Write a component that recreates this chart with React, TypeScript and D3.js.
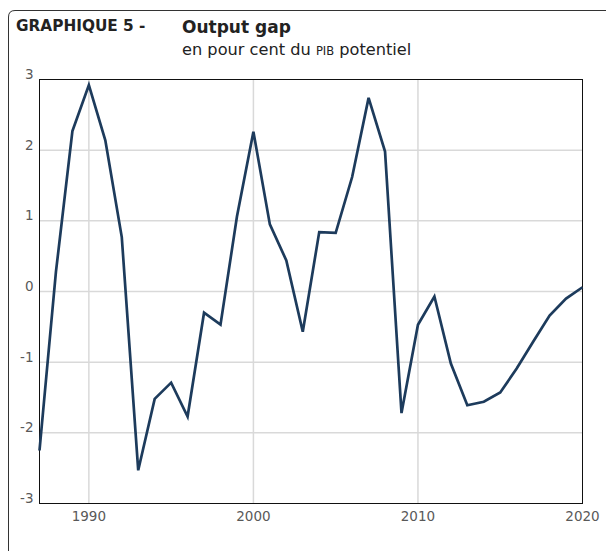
import React from "react";
import * as d3 from "d3";

// output gap, en % du PIB potentiel
const years = d3.range(1987, 2021);
const gap = [
  -2.25, 0.28, 2.27, 2.92, 2.14, 0.77, -2.53, -1.52, -1.29, -1.77,
  -0.3, -0.47, 1.06, 2.26, 0.95, 0.44, -0.57, 0.84, 0.83, 1.62,
  2.74, 1.98, -1.72, -0.47, -0.07, -1.02, -1.61, -1.56, -1.43, -1.09,
  -0.71, -0.34, -0.1, 0.06,
];
const yTicks = [-3, -2, -1, 0, 1, 2, 3];
const xTicks = [1990, 2000, 2010, 2020];

const W = 606;
const H = 551;
const left = 39.5;
const top = 79.5;
const right = 582.5;
const bottom = 503.5;

const font = "'DejaVu Sans', Verdana, sans-serif";

export default function App() {
  const x = d3.scaleLinear().domain([1987, 2020]).range([left, right]);
  const y = d3.scaleLinear().domain([-3, 3]).range([bottom, top]);
  const line = d3
    .line<number>()
    .x((d, i) => x(years[i]))
    .y((d) => y(d));

  return (
    <svg
      width={W}
      height={H}
      style={{ position: "absolute", left: 0, top: 0, background: "#fff" }}
    >
      {/* cadre */}
      <path
        d={`M8.5,${H + 5} V17 Q8.5,10.5 15,10.5 H${W + 5}`}
        fill="none"
        stroke="#333"
        strokeWidth={1}
      />
      <text x={16} y={31} fontFamily={font} fontWeight="bold" fontSize={15.3} fill="#222">
        GRAPHIQUE 5 -
      </text>
      <text x={182} y={33} fontFamily={font} fontWeight="bold" fontSize={17} fill="#222">
        Output gap
      </text>
      <text x={182} y={55} fontFamily={font} fontSize={16.2} fill="#222">
        en pour cent du <tspan fontSize={11.5}>PIB</tspan> potentiel
      </text>

      {/* grille */}
      {yTicks
        .filter((t) => t > -3 && t < 3)
        .map((t) => (
          <line key={"gy" + t} x1={left} x2={right} y1={y(t)} y2={y(t)} stroke="#d9d9d9" strokeWidth={1.5} />
        ))}
      {xTicks
        .filter((t) => t < 2020)
        .map((t) => (
          <line key={"gx" + t} x1={x(t)} x2={x(t)} y1={top} y2={bottom} stroke="#d9d9d9" strokeWidth={1.5} />
        ))}

      <rect x={left} y={top} width={right - left} height={bottom - top} fill="none" stroke="#111" strokeWidth={1} />

      {yTicks.map((t) => (
        <text
          key={"ly" + t}
          x={33.5}
          y={y(t) - 0.5}
          textAnchor="end"
          fontFamily={font}
          fontSize={13.5}
          fill="#595959"
        >
          {t}
        </text>
      ))}
      {xTicks.map((t) => (
        <text
          key={"lx" + t}
          x={x(t)}
          y={521}
          textAnchor="middle"
          fontFamily={font}
          fontSize={13.5}
          fill="#595959"
        >
          {t}
        </text>
      ))}

      <path d={line(gap) || ""} fill="none" stroke="#1d3b5c" strokeWidth={2.7} strokeLinejoin="miter" />
    </svg>
  );
}
